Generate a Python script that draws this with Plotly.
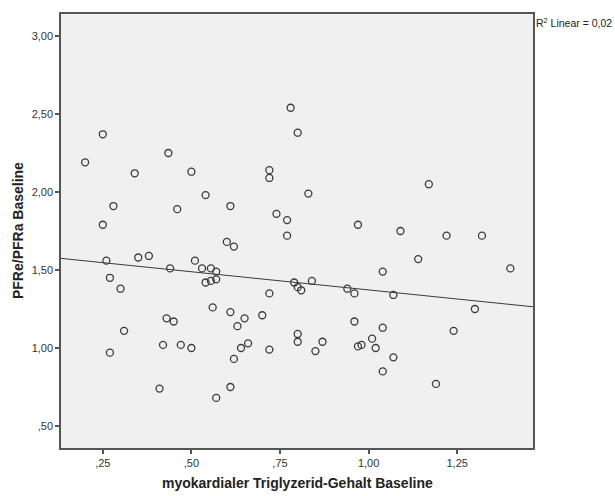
import numpy as np
import plotly.graph_objects as go

# Data (myokardialer Triglyzerid-Gehalt vs PFRe/PFRa)
tg = [0.78, 0.25, 0.80, 0.20, 0.435, 0.34, 0.50, 0.72, 0.72, 0.83,
      0.54, 0.28, 0.46, 0.61, 0.74, 0.77, 0.77, 0.25, 0.60, 0.62,
      1.17, 0.97, 1.09, 1.22, 1.32, 1.14, 0.26, 0.35, 0.38, 0.51,
      0.44, 0.53, 0.555, 0.57, 0.54, 0.555, 0.57, 0.27, 0.30, 0.79,
      0.80, 0.81, 0.84, 0.72, 0.56, 0.61, 0.70, 0.65, 0.43, 0.45,
      0.63, 0.31, 0.80, 0.80, 0.42, 0.47, 0.50, 0.66, 0.64, 0.72,
      0.27, 0.62, 0.41, 0.61, 0.57, 1.04, 1.40, 0.94, 0.96, 1.07,
      1.30, 0.96, 1.04, 1.24, 0.87, 0.85, 1.01, 0.97, 0.98, 1.02,
      1.07, 1.04, 1.19]
pfr = [2.54, 2.37, 2.38, 2.19, 2.25, 2.12, 2.13, 2.14, 2.09, 1.99,
       1.98, 1.91, 1.89, 1.91, 1.86, 1.82, 1.72, 1.79, 1.68, 1.65,
       2.05, 1.79, 1.75, 1.72, 1.72, 1.57, 1.56, 1.58, 1.59, 1.56,
       1.51, 1.51, 1.51, 1.49, 1.42, 1.43, 1.44, 1.45, 1.38, 1.42,
       1.39, 1.37, 1.43, 1.35, 1.26, 1.23, 1.21, 1.19, 1.19, 1.17,
       1.14, 1.11, 1.09, 1.04, 1.02, 1.02, 1.00, 1.03, 1.00, 0.99,
       0.97, 0.93, 0.74, 0.75, 0.68, 1.49, 1.51, 1.38, 1.35, 1.34,
       1.25, 1.17, 1.13, 1.11, 1.04, 0.98, 1.06, 1.01, 1.02, 1.00,
       0.94, 0.85, 0.77]

x_tickvals = [0.25, 0.50, 0.75, 1.00, 1.25]
x_ticktext = [",25", ",50", ",75", "1,00", "1,25"]
y_tickvals = [0.5, 1.0, 1.5, 2.0, 2.5, 3.0]
y_ticktext = [",50", "1,00", "1,50", "2,00", "2,50", "3,00"]
x_range = [0.132, 1.464]
y_range = [0.359, 3.141]
r2_label = "R<sup>2</sup> Linear = 0,02"
x_title = "myokardialer Triglyzerid-Gehalt Baseline"
y_title = "PFRe/PFRa Baseline"

slope, intercept = np.polyfit(tg, pfr, 1)
fit_x = np.array(x_range)
fit_y = intercept + slope * fit_x

axis_col = "#555555"
fig = go.Figure()
fig.add_trace(go.Scatter(
    x=fit_x, y=fit_y, mode="lines",
    line=dict(color="#3a3a3a", width=1), hoverinfo="skip", showlegend=False))
fig.add_trace(go.Scatter(
    x=tg, y=pfr, mode="markers",
    marker=dict(symbol="circle-open", size=7, color="#3a3a3a",
                line=dict(width=1.3, color="#3a3a3a")),
    showlegend=False))

common = dict(showgrid=False, zeroline=False, showline=True, linecolor=axis_col,
              linewidth=1.5, mirror=True, ticks="outside", ticklen=4,
              tickcolor=axis_col, tickwidth=1.5,
              tickfont=dict(family="Liberation Sans, Arial", size=11, color="#333333"))
fig.update_xaxes(range=x_range, tickvals=x_tickvals, ticktext=x_ticktext, **common)
fig.update_yaxes(range=y_range, tickvals=y_tickvals, ticktext=y_ticktext, **common)

fig.add_annotation(text="<b>" + x_title + "</b>",
                   xref="paper", yref="paper", x=0.5, y=-0.08,
                   xanchor="center", yanchor="middle", showarrow=False,
                   font=dict(family="Liberation Sans, Arial", size=14, color="#222222"))
fig.add_annotation(text="<b>" + y_title + "</b>",
                   xref="paper", yref="paper", x=-0.091, y=0.5, textangle=-90,
                   xanchor="center", yanchor="middle", showarrow=False,
                   font=dict(family="Liberation Sans, Arial", size=14, color="#222222"))
fig.add_annotation(text=r2_label, xref="paper", yref="paper", x=1.003, y=1.0,
                   xanchor="left", yanchor="top", showarrow=False,
                   font=dict(family="Liberation Sans, Arial", size=10.5, color="#222222"))

fig.update_layout(
    width=615, height=496,
    margin=dict(l=61, r=82, t=12, b=48),
    paper_bgcolor="white", plot_bgcolor="#f0f0f0",
)
fig.write_html("out.html")
